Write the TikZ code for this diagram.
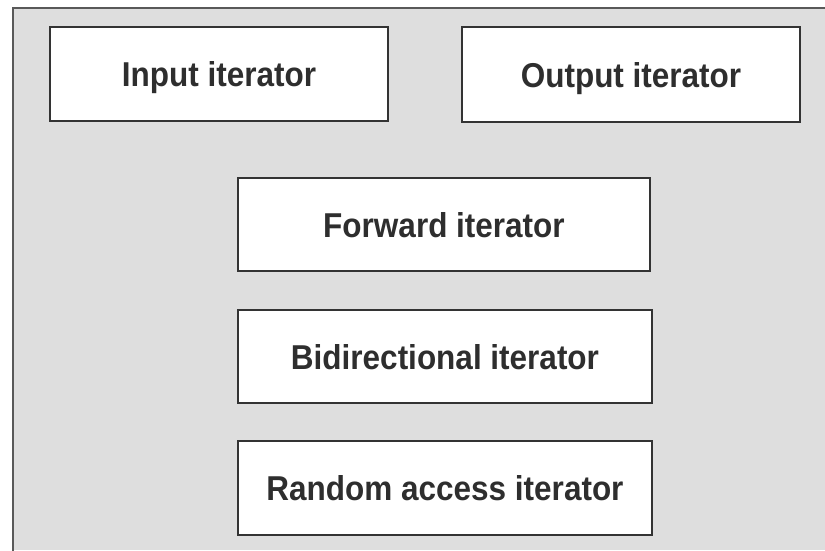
\documentclass[tikz,border=0pt]{standalone}
\usepackage{fontspec}
\setmainfont{Liberation Sans}[FakeStretch=0.913]
\begin{document}
\begin{tikzpicture}[x=1pt,y=-1pt,
  itbox/.style={draw=black!80,line width=2.2pt,fill=white,inner sep=0pt,
    font=\fontsize{34.5}{38}\selectfont\bfseries,text=black!82,
    text height=25pt,text depth=0pt},
  frame/.style={draw=black!65,line width=2pt}]
\useasboundingbox (0,0) rectangle (825,550);
\fill[white] (0,0) rectangle (825,550);
\fill[black!13] (13,8) rectangle (825,550);
\draw[frame] (13,551) -- (13,8) -- (826,8);
\node[itbox,minimum width=338pt,minimum height=94pt] (input) at (219,74) {Input iterator};
\node[itbox,minimum width=338pt,minimum height=95pt] (output) at (631,74.5) {Output iterator};
\node[itbox,minimum width=412pt,minimum height=93pt] (forward) at (444,224.5) {Forward iterator};
\node[itbox,minimum width=414pt,minimum height=93pt] (bidir) at (445,356.5) {Bidirectional iterator};
\node[itbox,minimum width=414pt,minimum height=94pt] (random) at (445,488) {Random access iterator};
\end{tikzpicture}
\end{document}
